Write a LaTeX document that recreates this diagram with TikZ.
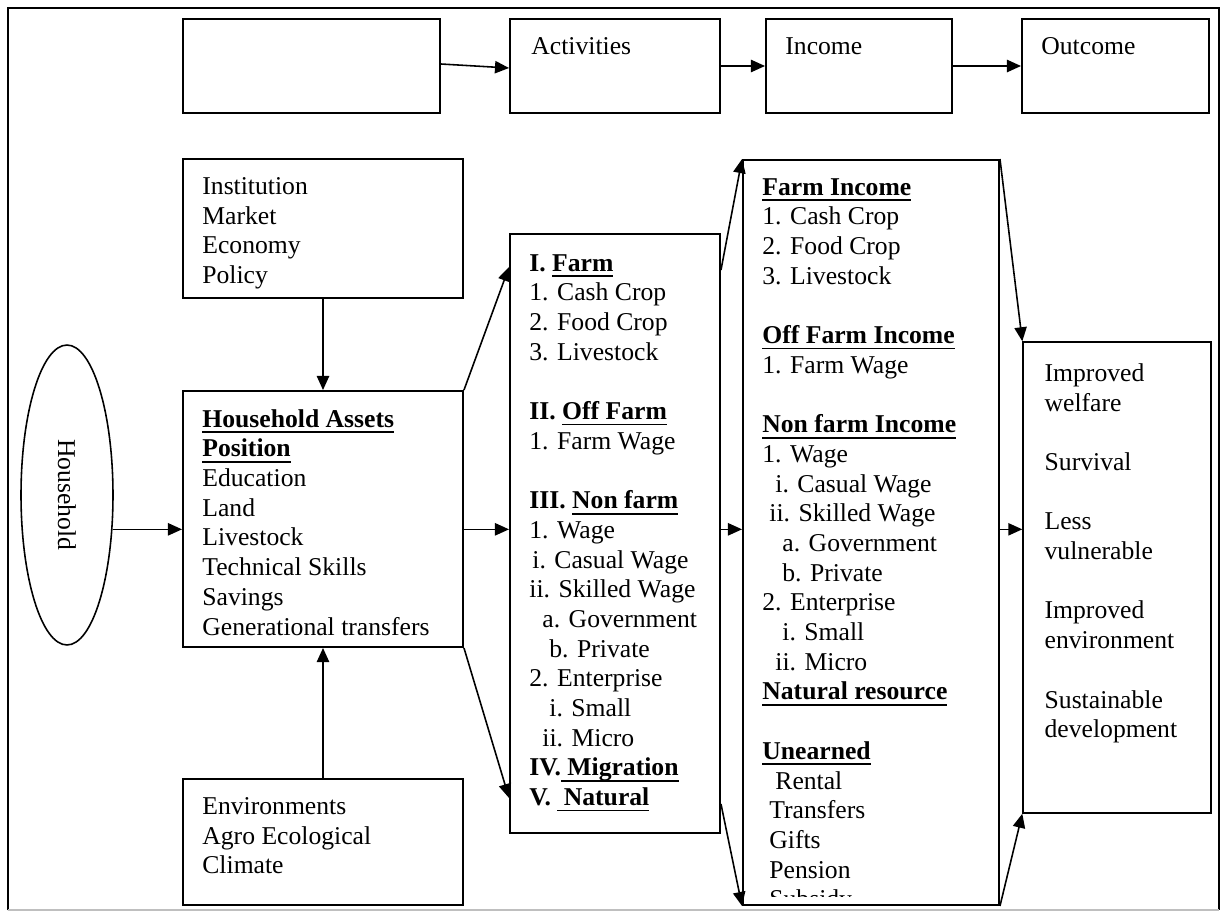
\documentclass[tikz,border=0pt]{standalone}
\usepackage{fontspec}
\setmainfont{Liberation Serif}
\usetikzlibrary{positioning}
\usetikzlibrary{fit}
\usetikzlibrary{arrows.meta}
\usetikzlibrary{shapes.geometric}
\newlength\pxl
\setlength\pxl{0.02cm}
\newcommand{\ul}[1]{\setbox0\hbox{#1}\rlap{\rule[-3.3pt]{\wd0}{1.1pt}}\box0}
\newcommand{\hd}[1]{\textbf{\ul{#1}}}
\newcommand{\ind}[1]{\hspace*{#1\pxl}}
\tikzset{%
  arrow/.style = {-{Triangle[length=8pt,width=7pt]},line width=0.9pt},
  r/.style = {rectangle,draw,line width=1.1pt,inner sep=0pt},
  rthin/.style = {rectangle,draw,line width=0.8pt,inner sep=0pt},
  t/.style = {anchor=north west,inner sep=0pt,align=left,
        font=\fontsize{14.6}{16.9}\selectfont,
        execute at begin node=\strut}
}

\begin{document}
\begin{tikzpicture}[x=0.02cm,y=-0.02cm]
  \useasboundingbox (0,0) rectangle (1226,916);
  % frame
  \node[fit={(8,8) (1219,910)},inner sep=0pt] (frame) {};
  \draw[line width=1.2pt] (frame.south west) -- (frame.north west)
    -- (frame.north east) -- (frame.south east);
  \draw[line width=1.2pt,black!25] (frame.south west) -- (frame.south east);

  % top row
  \node[r,fit={(183,19) (440,113)}] (top1) {};
  \node[r,fit={(510,19) (720,113)}] (topact) {};
  \node[r,fit={(766,19) (952,113)}] (topinc) {};
  \node[r,fit={(1022,19) (1209,113)}] (topout) {};
  \node[t] (topact-t) at ([shift={(22,15)}]topact.north west) {Activities};
  \node[t] (topinc-t) at ([shift={(20,15)}]topinc.north west) {Income};
  \node[t] (topout-t) at ([shift={(20,15)}]topout.north west) {Outcome};
  \draw[arrow] ([yshift=0.04cm]top1.east) -- ([yshift=-0.04cm]topact.west);
  \draw[arrow] (topact.east) -- (topinc.west);
  \draw[arrow] (topinc.east) -- (topout.west);

  % household and assets
  \node[ellipse,draw,line width=0.9pt,minimum width=1.84cm,
    minimum height=6cm,inner sep=0pt] (hh) at (67,495) {};
  \node[rotate=-90,font=\fontsize{14.6}{16.9}\selectfont] (hh-t) at (hh) {Household};
  \node[r,fit={(183,159) (463,298)}] (inst) {};
  \node[t] (inst-t) at ([shift={(20,19)}]inst.north west)
    {Institution\\Market\\Economy\\Policy};
  \node[r,fit={(183,391) (463,647)}] (assets) {};
  \node[t] (assets-t) at ([shift={(20,19)}]assets.north west)
    {\hd{Household Assets}\\\hd{Position}\\Education\\Land\\Livestock\\
     Technical Skills\\Savings\\Generational transfers};
  \node[r,fit={(183,779) (463,905)}] (env) {};
  \node[t] (env-t) at ([shift={(20,19)}]env.north west)
    {Environments\\Agro Ecological\\Climate};

  % activities
  \node[r,fit={(510,234) (720,833)}] (act) {};
  \node[t] (act-t) at ([shift={(20,21)}]act.north west)
    {\textbf{I. \ul{Farm}}\\1. Cash Crop\\2. Food Crop\\3. Livestock\\[16.9pt]
     \textbf{II. \ul{Off Farm}}\\1. Farm Wage\\[16.9pt]
     \textbf{III. \ul{Non farm}}\\1. Wage\\\ind{3}i. Casual Wage\\
     ii. Skilled Wage\\\ind{13}a. Government\\\ind{20}b. Private\\
     2. Enterprise\\\ind{20}i. Small\\\ind{13}ii. Micro\\
     \textbf{IV.\ul{ Migration}}\\\textbf{V. \ul{ Natural}}};

  % income
  \node[r,fit={(743,160) (999,905)}] (inc) {};
  \begin{scope}
    \clip (inc.north west) rectangle ([yshift=0.18cm]inc.south east);
    \node[t] (inc-t) at ([shift={(20,19)}]inc.north west)
      {\hd{Farm Income}\\1. Cash Crop\\2. Food Crop\\3. Livestock\\[16.9pt]
       \hd{Off Farm Income}\\1. Farm Wage\\[16.9pt]
       \hd{Non farm Income}\\1. Wage\\\ind{13}i. Casual Wage\\
       \ind{7}ii. Skilled Wage\\\ind{20}a. Government\\\ind{20}b. Private\\
       2. Enterprise\\\ind{20}i. Small\\\ind{13}ii. Micro\\
       \hd{Natural resource}\\[16.9pt]
       \hd{Unearned}\\\ind{13}Rental\\\ind{7}Transfers\\\ind{7}Gifts\\
       \ind{7}Pension\\\ind{7}Subsidy};
  \end{scope}

  % outcome
  \node[rthin,fit={(1023,342) (1211,813)}] (out) {};
  \node[t] (out-t) at ([shift={(22,22)}]out.north west)
    {Improved\\welfare\\[16.9pt]Survival\\[16.9pt]Less\\vulnerable\\[16.9pt]
     Improved\\environment\\[16.9pt]Sustainable\\development};

  % connectors
  \draw[arrow] (inst.south) -- (assets.north);
  \draw[arrow] (env.north) -- (assets.south);
  \draw[arrow] (hh.-37) -- (hh.-37 -| assets.west);
  \draw[arrow] (assets.east |- hh.-37) -- (act.west |- hh.-37);
  \draw[arrow] (assets.north east) -- ([yshift=-0.68cm]act.north west);
  \draw[arrow] (assets.south east) -- ([yshift=0.72cm]act.south west);
  \draw[arrow] (act.east |- hh.-37) -- (inc.west |- hh.-37);
  \draw[arrow] ([yshift=-0.74cm]act.north east) -- (inc.north west);
  \draw[arrow] ([yshift=0.6cm]act.south east) -- (inc.south west);
  \draw[arrow] (inc.east |- hh.-37) -- (out.west |- hh.-37);
  \draw[arrow] (inc.north east) -- (out.north west);
  \draw[arrow] (inc.south east) -- (out.south west);
\end{tikzpicture}
\end{document}
